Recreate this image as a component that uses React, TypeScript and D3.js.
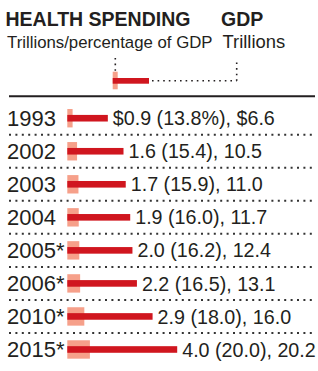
import React from 'react';
import * as d3 from 'd3';

const years = ['1993', '2002', '2003', '2004', '2005*', '2006*', '2010*', '2015*'];
const spending = [0.9, 1.6, 1.7, 1.9, 2.0, 2.2, 2.9, 4.0];
const pctGdp = [13.8, 15.4, 15.9, 16.0, 16.2, 16.5, 18.0, 20.0];
const gdp = [6.6, 10.5, 11.0, 11.7, 12.4, 13.1, 16.0, 20.2];

const W = 318;
const H = 371;
const RED = '#d0161f';
const PINK = '#f6a08a';
const INK = '#231f20';
const FONT = '"Liberation Sans", Arial, sans-serif';

const x0 = 67.3;

const App = () => {
  // rows
  const y = d3.scaleBand<string>().domain(years).range([101.7, 366]).padding(0);
  // health spending, trillions
  const x = d3.scaleLinear().domain([0, 4]).range([x0 + 20.4, x0 + 109.9]);
  // share of GDP
  const w = d3.scaleLinear().domain([11.9, 20]).range([0, 22.6]);

  const fmt = d3.format('.1f');
  const label = (i: number) =>
    i === 0
      ? `$${fmt(spending[i])} (${fmt(pctGdp[i])}%), $${fmt(gdp[i])}`
      : `${fmt(spending[i])} (${fmt(pctGdp[i])}), ${fmt(gdp[i])}`;

  return (
    <div style={{ position: 'absolute', left: 0, top: 0 }}>
      <svg width={W} height={H} style={{ display: 'block', fontFamily: FONT }}>
        <rect width={W} height={H} fill="#fff" />

        {/* header */}
        <text x={5.5} y={26} fontSize={19.5} fontWeight="bold" fill={INK}>HEALTH SPENDING</text>
        <text x={221} y={26} fontSize={19.5} fontWeight="bold" fill={INK}>GDP</text>
        <text x={7} y={48.3} fontSize={16.8} fill={INK}>Trillions/percentage of GDP</text>
        <text x={222.5} y={48.3} fontSize={18.4} fill={INK}>Trillions</text>

        {/* key */}
        <g stroke={INK} strokeWidth={1.6} strokeDasharray="1.6 4">
          <line x1={115.3} x2={115.3} y1={58} y2={71} />
          <line x1={152} x2={236.7} y1={80.8} y2={80.8} />
          <line x1={236.7} x2={236.7} y1={62.5} y2={80.8} />
        </g>
        <rect x={112.7} y={71.7} width={5} height={17.6} fill={PINK} />
        <rect x={112.7} y={78} width={36.3} height={5.7} fill={RED} />

        <line x1={9} x2={315} y1={96.2} y2={96.2} stroke={INK} strokeWidth={2} />

        {/* separators */}
        <g stroke="#333" strokeWidth={2} strokeDasharray="2 4.4">
          {years.slice(1).map((yr) => (
            <line key={yr} x1={9} x2={315} y1={y(yr)!} y2={y(yr)!} />
          ))}
        </g>

        {years.map((yr, i) => {
          const cy = y(yr)! + y.bandwidth() / 2;
          return (
            <g key={yr}>
              <text x={7} y={cy + 7.9} fontSize={22} fill={INK}>{yr}</text>
              <rect x={x0} y={cy - 9.2} width={w(pctGdp[i])} height={18.4} fill={PINK} />
              <rect x={x0} y={cy - 3.3} width={x(spending[i]) - x0} height={6.6} fill={RED} />
              <text x={x(spending[i]) + 5} y={cy + 7.1} fontSize={19.7} fill={INK}>{label(i)}</text>
            </g>
          );
        })}
      </svg>
    </div>
  );
};

export default App;
